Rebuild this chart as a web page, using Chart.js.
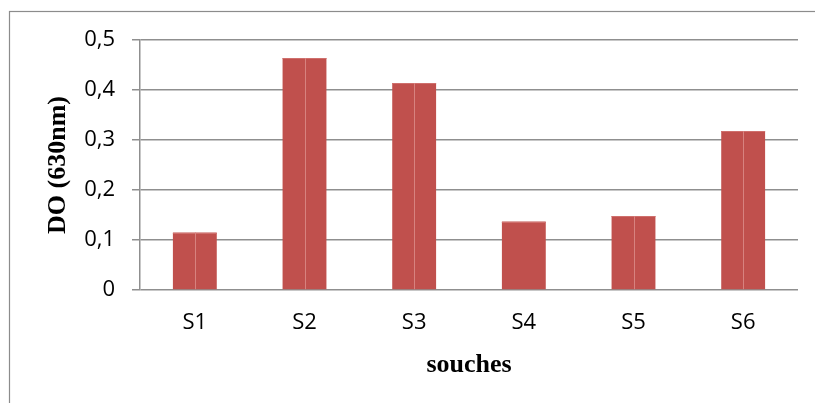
<!DOCTYPE html>
<html>
<head>
<meta charset="utf-8">
<script src="https://cdn.jsdelivr.net/npm/chart.js@4.4.1/dist/chart.umd.min.js"></script>
<style>
  html, body { margin: 0; padding: 0; background: #ffffff; }
  #wrap { width: 815px; height: 403px; }
</style>
</head>
<body>
<div id="wrap"><canvas id="c" width="815" height="403"></canvas></div>
<script>
// Optical density (630 nm) measured for each strain
const categories = ['S1', 'S2', 'S3', 'S4', 'S5', 'S6'];
const doValues = [0.115, 0.464, 0.414, 0.137, 0.148, 0.318];
const yTicks = [0, 0.1, 0.2, 0.3, 0.4, 0.5];
const yTitle = 'DO (630nm)';
const xTitle = 'souches';

const BAR = '#C0504D';
const BAR_LINE = '#D7827F';
const GRID = '#8f8f8f';
// bars that carry a thin light divider down their middle
const splitBars = [0, 1, 2, 4, 5];

// outer frame of the chart object
const framePlugin = {
  id: 'frame',
  beforeDraw(chart) {
    const ctx = chart.ctx;
    ctx.save();
    ctx.fillStyle = '#ffffff';
    ctx.fillRect(0, 0, chart.width, chart.height);
    ctx.strokeStyle = '#8c8c8c';
    ctx.lineWidth = 1.2;
    ctx.strokeRect(9.5, 11.5, chart.width + 20, chart.height + 20);
    ctx.restore();
  }
};

// light vertical divider through the middle of a bar
const dividerPlugin = {
  id: 'divider',
  afterDatasetsDraw(chart) {
    const ctx = chart.ctx;
    const meta = chart.getDatasetMeta(0);
    ctx.save();
    ctx.strokeStyle = BAR_LINE;
    ctx.lineWidth = 1;
    meta.data.forEach((bar, i) => {
      // faint highlight along the top edge
      ctx.beginPath();
      ctx.strokeStyle = '#cf6f6c';
      ctx.moveTo(bar.x - bar.width / 2, Math.round(bar.y) + 0.5);
      ctx.lineTo(bar.x + bar.width / 2, Math.round(bar.y) + 0.5);
      ctx.stroke();
      if (!splitBars.includes(i)) return;
      const x = Math.round(bar.x) + 0.5;
      ctx.beginPath();
      ctx.strokeStyle = BAR_LINE;
      ctx.moveTo(x, bar.y);
      ctx.lineTo(x, bar.base);
      ctx.stroke();
    });
    ctx.restore();
  }
};

new Chart(document.getElementById('c'), {
  type: 'bar',
  data: {
    labels: categories,
    datasets: [{
      data: doValues,
      backgroundColor: BAR,
      borderWidth: 0,
      categoryPercentage: 1.0,
      barPercentage: 0.4
    }]
  },
  options: {
    responsive: false,
    animation: false,
    devicePixelRatio: 1,
    layout: { padding: { left: 0, right: 17, top: 40, bottom: 0 } },
    plugins: {
      legend: { display: false },
      tooltip: { enabled: false }
    },
    scales: {
      x: {
        grid: { display: false, drawTicks: false },
        border: { display: false },
        ticks: {
          color: '#000000',
          padding: 20,
          font: { family: 'Open Sans', size: 22 }
        },
        title: {
          display: true,
          text: xTitle,
          color: '#000000',
          padding: { top: 0, bottom: 22 },
          font: { family: 'Liberation Serif', size: 26, weight: 'bold' }
        },
        afterFit(scale) { scale.height = 113; }
      },
      y: {
        min: 0,
        max: 0.5,
        afterBuildTicks(scale) { scale.ticks = yTicks.map(v => ({ value: v })); },
        grid: { color: GRID, lineWidth: 1.5, tickLength: 8 },
        border: { display: true, color: GRID, width: 1.5 },
        ticks: {
          color: '#000000',
          padding: 17,
          font: { family: 'Open Sans', size: 22 },
          callback: v => String(v).replace('.', ',')
        },
        title: {
          display: true,
          text: yTitle,
          color: '#000000',
          padding: { top: 43, bottom: 0 },
          font: { family: 'Liberation Serif', size: 26, weight: 'bold' }
        },
        afterFit(scale) { scale.width = 140; }
      }
    }
  },
  plugins: [framePlugin, dividerPlugin]
});
</script>
</body>
</html>
